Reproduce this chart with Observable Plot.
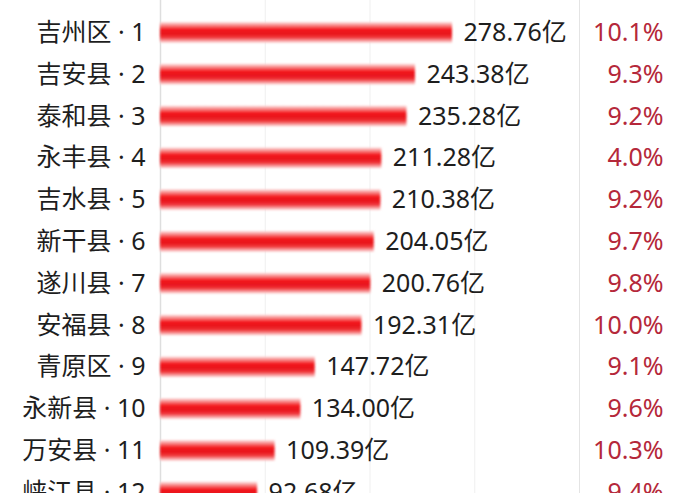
<!DOCTYPE html>
<html>
<head>
<meta charset="utf-8">
<script src="https://cdn.jsdelivr.net/npm/d3@7"></script>
<script src="https://cdn.jsdelivr.net/npm/@observablehq/plot@0.6"></script>
<style>
  html, body { margin: 0; padding: 0; background: #fff; }
  #chart svg { overflow: hidden; display: block; }
</style>
</head>
<body>
<div id="chart"></div>
<script>
const names = ["吉州区", "吉安县", "泰和县", "永丰县", "吉水县", "新干县", "遂川县", "安福县", "青原区", "永新县", "万安县", "峡江县"];
const values = [278.76, 243.38, 235.28, 211.28, 210.38, 204.05, 200.76, 192.31, 147.72, 134.00, 109.39, 92.68];
const growth = [10.1, 9.3, 9.2, 4.0, 9.2, 9.7, 9.8, 10.0, 9.1, 9.6, 10.3, 9.4];
const gridTicks = [0, 100, 200, 300, 400];

const data = names.map((n, i) => ({
  label: `${n} · ${i + 1}`,
  value: values[i],
  valueText: values[i].toFixed(2) + "亿",
  growthText: growth[i].toFixed(1) + "%"
}));
const labels = data.map(d => d.label);

const font = "'Noto Sans', 'Noto Sans CJK SC', sans-serif";

const chart = Plot.plot({
  width: 676,
  height: 493,
  marginLeft: 160,
  marginRight: 97,
  marginTop: 0,
  marginBottom: 0,
  style: { fontFamily: font, background: "#fff" },
  x: { domain: [0, 400], axis: null },
  y: { domain: labels, range: [11.5, 11.5 + 41.8 * 12], paddingInner: 0.5, paddingOuter: 0.25, round: false, axis: null },
  marks: [
    Plot.ruleX(gridTicks.slice(1, 4), { stroke: "#efefef", strokeWidth: 1 }),
    Plot.ruleX([0], { stroke: "#dedede", strokeWidth: 1.5 }),
    Plot.ruleX([400], { stroke: "#e4e4e4", strokeWidth: 1 }),
    Plot.barX(data, { x: "value", y: "label", fill: "url(#barGrad)", className: "bars" }),
    Plot.text(data, { x: 0, y: "label", text: "label", textAnchor: "end", dx: -15, fontSize: 25, fill: "#1e1e1e" }),
    Plot.text(data, { x: "value", y: "label", text: "valueText", textAnchor: "start", dx: 11, fontSize: 25, fill: "#1e1e1e" }),
    Plot.text(data, { x: 400, y: "label", text: "growthText", textAnchor: "end", dx: 84, fontSize: 25, fill: "#b5283a" })
  ]
});

const svg = d3.select(chart);
const defs = svg.insert("defs", ":first-child");
const g = defs.append("linearGradient").attr("id", "barGrad")
  .attr("x1", 0).attr("y1", 0).attr("x2", 0).attr("y2", 1);
[["0%", "#fde3e3"], ["18%", "#f77c7c"], ["35%", "#f51a1f"], ["55%", "#e8141c"], ["75%", "#f0363a"], ["100%", "#fde0e0"]]
  .forEach(([o, c]) => g.append("stop").attr("offset", o).attr("stop-color", c));
const f = defs.append("filter").attr("id", "soft").attr("x", "-5%").attr("y", "-30%").attr("width", "110%").attr("height", "160%");
f.append("feGaussianBlur").attr("stdDeviation", 0.9);
svg.selectAll("g.bars, g[aria-label='bar']").attr("filter", "url(#soft)");

document.getElementById("chart").appendChild(chart);
</script>
</body>
</html>
